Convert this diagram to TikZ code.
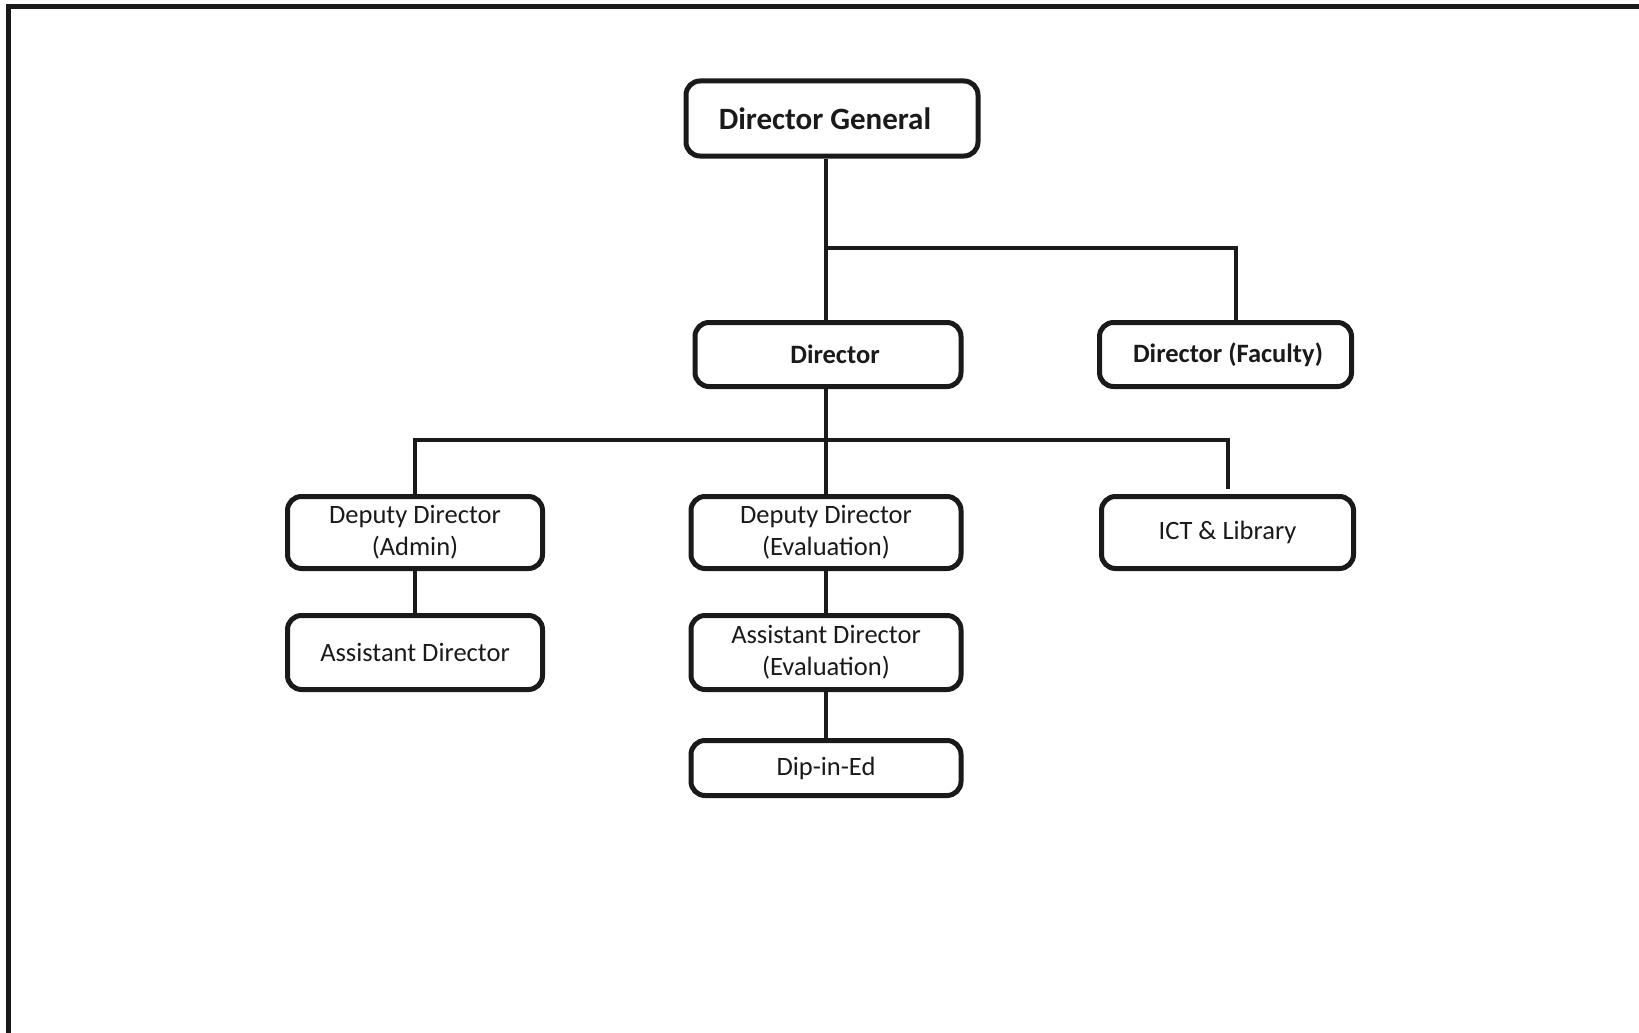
\documentclass[tikz,border=0pt]{standalone}
\usepackage{fontspec}
\setmainfont{Carlito}
\definecolor{ink}{HTML}{1A1A1A}
\begin{document}
\begin{tikzpicture}[x=1pt,y=-1pt,
  box/.style={draw=ink, line width=5pt, rounded corners=14pt, fill=white,
    text=ink, align=center, inner sep=0pt},
  headtext/.style={font=\bfseries\fontsize{31}{37}\selectfont},
  boldtext/.style={font=\bfseries\fontsize{26.5}{32.4}\selectfont},
  plaintext/.style={font=\fontsize{26.5}{32.4}\selectfont},
  link/.style={draw=ink, line width=4pt},
  frameline/.style={draw=ink, line width=5pt}]
\useasboundingbox (0,0) rectangle (1639,1033);

% page frame (top and left edges)
\draw[frameline] (8.5,1045) -- (8.5,6.5) -- (1650,6.5);

% boxes
\node[box, headtext, minimum width=292pt, minimum height=75pt] (dg)  at (832,118.5) {\hspace*{-14pt}Director General};
\node[box, boldtext, minimum width=266pt, minimum height=64pt] (dir) at (828,354.5) {Director\hspace*{-14pt}};
\node[box, boldtext, minimum width=252pt, minimum height=64pt] (fac) at (1225.5,354.5) {Director (Faculty)\hspace*{-5pt}};
\node[box, plaintext, minimum width=255pt, minimum height=72pt] (dda) at (415,532.5) {Deputy Director\\(Admin)};
\node[box, plaintext, minimum width=270pt, minimum height=72pt] (dde) at (826,532.5) {Deputy Director\\(Evaluation)};
\node[box, plaintext, minimum width=252pt, minimum height=72pt] (ict) at (1227.5,532.5) {ICT \& Library};
\node[box, plaintext, minimum width=255pt, minimum height=74pt] (ad)  at (415,652.5) {Assistant Director};
\node[box, plaintext, minimum width=270pt, minimum height=74pt] (ade) at (826,652.5) {Assistant Director\\(Evaluation)};
\node[box, plaintext, minimum width=270pt, minimum height=55pt] (dip) at (826,768) {Dip-in-Ed};

% branch points
\coordinate (b1) at (826,248);
\coordinate (b2) at (826,440);

% connectors
\draw[link] (b1 |- dg.south) -- (b1 |- dir.north);
\draw[link] (b1) -| ([xshift=10.5pt]fac.north);
\draw[link] (b1 |- dir.south) -- (dde.north);
\draw[link] (b2) -| (dda.north);
\draw[link, shorten >=5pt] (b2) -| (ict.north);
\draw[link] (dda.south) -- (ad.north);
\draw[link] (dde.south) -- (ade.north);
\draw[link] (ade.south) -- (dip.north);
\end{tikzpicture}
\end{document}
